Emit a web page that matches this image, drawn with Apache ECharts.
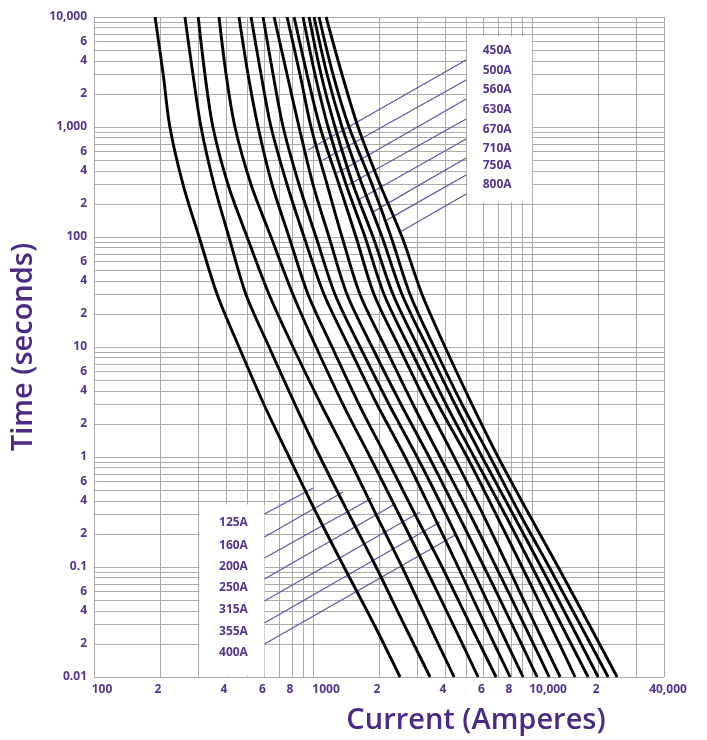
<!DOCTYPE html>
<html><head><meta charset="utf-8">
<script src="https://cdn.jsdelivr.net/npm/echarts@6/dist/echarts.min.js"></script>
<style>html,body{margin:0;padding:0;background:#fff}#c{width:707px;height:740px}</style>
</head><body><div id="c"></div>
<script>
// ---- data (current in A at each time in s) ----
const ratings = ['125A','160A','200A','250A','315A','355A','400A','450A','500A','560A','630A','670A','710A','750A','800A'];
const times = [10000,3000,1000,300,100,30,10,3,1,0.3,0.1,0.03,0.01];
const c125 = [190,207,222,255,302,365,459,597,777,1043,1385,1899,2496];
const c160 = [260,283,308,353,413,494,630,828,1076,1460,1940,2603,3421];
const c200 = [299,321,349,409,500,630,810,1088,1445,1940,2549,3386,4404];
const c250 = [372,401,440,521,643,810,1032,1371,1821,2470,3246,4358,5667];
const c315 = [459,505,561,650,777,949,1221,1622,2154,2923,3882,5212,6848];
const c355 = [521,579,643,761,910,1123,1460,1960,2631,3532,4593,6102,7935];
const c400 = [591,657,730,863,1032,1260,1639,2223,2986,4049,5266,6994,9096];
const c450 = [664,761,863,1000,1183,1430,1859,2522,3386,4593,6037,8104,10540];
const c500 = [761,872,979,1159,1356,1639,2132,2861,3800,5212,6848,9194,11960];
const c560 = [819,939,1076,1314,1571,1899,2470,3315,4404,5974,7770,10320,13430];
const c630 = [900,1021,1171,1415,1727,2110,2744,3722,5050,6848,9001,12080,15710];
const c670 = [959,1088,1260,1522,1879,2319,3016,4049,5435,7528,10000,13570,18020];
const c710 = [1011,1159,1356,1674,2066,2549,3315,4451,5912,8190,10990,15070,20020];
const c750 = [1065,1234,1460,1859,2271,2773,3569,4791,6430,8815,11960,16570,22230];
const c800 = [1147,1356,1605,2022,2549,3146,4006,5321,6994,9689,13140,18210,24440];
const curves = [c125,c160,c200,c250,c315,c355,c400,c450,c500,c560,c630,c670,c710,c750,c800];

// axis ticks
const xTickValues = [100,200,400,600,800,1000,2000,4000,6000,8000,10000,20000,40000];
const xTickLabels = ['100','2','4','6','8','1000','2','4','6','8','10,000','2','40,000'];
const yTickValues = [0.01,0.02,0.04,0.06,0.1,0.2,0.4,0.6,1,2,4,6,10,20,40,60,100,200,400,600,1000,2000,4000,6000,10000];
const yTickLabels = ['0.01','2','4','6','0.1','2','4','6','1','2','4','6','10','2','4','6','100','2','4','6','1,000','2','4','6','10,000'];
const xGridValues = [100,200,300,400,500,600,700,800,900,1000,2000,3000,4000,5000,6000,7000,8000,9000,10000,20000,30000,40000];
const yGridValues = [0.01,0.02,0.03,0.04,0.05,0.06,0.07,0.08,0.09,0.1,0.2,0.3,0.4,0.5,0.6,0.7,0.8,0.9,1,2,3,4,5,6,7,8,9,10,20,30,40,50,60,70,80,90,100,200,300,400,500,600,700,800,900,1000,2000,3000,4000,5000,6000,7000,8000,9000,10000];

// leader lines: top group (450A..800A) start at box edge current, bottom group (125A..400A)
const topLabels = ['450A','500A','560A','630A','670A','710A','750A','800A'];
const topStartCurrent = 5000;
const topStartTimes = [4064,2675,1797,1182,778,523,366,246];
const topEndCurrents = [949,1111,1287,1445,1605,1879,2177,2496];
const topEndTimes = [618,501,382,297,217,169,143,111];
const bottomLabels = ['125A','160A','200A','250A','315A','355A','400A'];
const bottomStartCurrent = 600;
const bottomStartTimes = [0.303,0.1875,0.1208,0.0778,0.0491,0.031,0.01995];
const bottomEndCurrents = [1000,1371,1859,2368,3081,3800,4545];
const bottomEndTimes = [0.523,0.481,0.424,0.374,0.316,0.2566,0.1995];
// label box extents (data units)
const topBox = [[5000,6700],[10000,204]];
const bottomBox = [[300,0.37],[600,0.01]];

// ---- chart ----
const PURPLE = '#55358f';
const TITLE = '#4a2a85';
const LEADER = '#6e52a3';
const GRID = '#ababab';
const FONT = '"Open Sans", "Noto Sans", sans-serif';

function lookup(vals, labels, v) {
  let best = 0, bd = Infinity;
  vals.forEach((t, i) => { const d = Math.abs(Math.log10(t) - Math.log10(v)); if (d < bd) { bd = d; best = i; } });
  return labels[best];
}
const xRichKey = { '100': 'a', '1000': 'b', '10,000': 'c', '40,000': 'd' };

const series = [];
series.push({
  type: 'line', data: [], silent: true, z: 1,
  markLine: {
    silent: true, z: 1, symbol: ['none', 'none'], label: { show: false },
    lineStyle: { color: GRID, width: 1, type: 'solid' }, animation: false,
    emphasis: { disabled: true },
    data: xGridValues.map(v => ({ xAxis: v })).concat(yGridValues.map(v => ({ yAxis: v })))
  }
});
curves.forEach((arr, i) => {
  series.push({
    name: ratings[i], type: 'line', z: 5, showSymbol: false, smooth: 0.3, silent: true,
    clip: true,
    lineStyle: { color: '#000', width: 2.9 },
    data: arr.map((c, j) => [c, times[j]])
  });
});
topLabels.forEach((l, i) => {
  series.push({ type: 'line', z: 4, showSymbol: false, silent: true,
    lineStyle: { color: LEADER, width: 1.3 },
    data: [[topStartCurrent, topStartTimes[i]], [topEndCurrents[i], topEndTimes[i]]] });
});
bottomLabels.forEach((l, i) => {
  series.push({ type: 'line', z: 4, showSymbol: false, silent: true,
    lineStyle: { color: LEADER, width: 1.3 },
    data: [[bottomStartCurrent, bottomStartTimes[i]], [bottomEndCurrents[i], bottomEndTimes[i]]] });
});

const chart = echarts.init(document.getElementById('c'), null, { renderer: 'canvas' });
chart.setOption({
  animation: false,
  backgroundColor: '#fff',
  grid: { left: 94, top: 17, width: 570, height: 660, containLabel: false },
  xAxis: {
    type: 'log', logBase: 10, min: 100, max: 40000,
    name: 'Current (Amperes)', nameLocation: 'middle', nameGap: 29,
    nameTextStyle: { fontFamily: FONT, fontWeight: 600, fontSize: 29, color: TITLE, padding: [0, 0, 0, 194] },
    axisLine: { show: false }, axisTick: { show: false }, splitLine: { show: false },
    axisLabel: {
      customValues: xTickValues, margin: 7,
      fontFamily: FONT, fontWeight: 'bold', fontSize: 12, color: PURPLE,
      formatter: function (v) { const s = lookup(xTickValues, xTickLabels, v); return '{' + (xRichKey[s] || 'e') + '|' + s + '}'; },
      rich: {
        a: { fontFamily: FONT, fontWeight: 'bold', fontSize: 12, color: PURPLE, padding: [0, 0, 0, 16] },
        b: { fontFamily: FONT, fontWeight: 'bold', fontSize: 12, color: PURPLE, padding: [0, 0, 0, 26] },
        c: { fontFamily: FONT, fontWeight: 'bold', fontSize: 12, color: PURPLE, padding: [0, 0, 0, 32] },
        d: { fontFamily: FONT, fontWeight: 'bold', fontSize: 12, color: PURPLE, padding: [0, 0, 0, 8] },
        e: { fontFamily: FONT, fontWeight: 'bold', fontSize: 12, color: PURPLE, padding: [0, 4, 0, 0] }
      }
    }
  },
  yAxis: {
    type: 'log', logBase: 10, min: 0.01, max: 10000,
    name: 'Time (seconds)', nameLocation: 'middle', nameGap: 48, nameRotate: 90,
    nameTextStyle: { fontFamily: FONT, fontWeight: 600, fontSize: 29, color: TITLE },
    axisLine: { show: false }, axisTick: { show: false }, splitLine: { show: false },
    axisLabel: {
      customValues: yTickValues, margin: 7,
      fontFamily: FONT, fontWeight: 'bold', fontSize: 12, color: PURPLE,
      formatter: function (v) { return lookup(yTickValues, yTickLabels, v); }
    }
  },
  series: series
});

// label boxes and texts, placed through the axes' conversion
function px(p) { return chart.convertToPixel({ gridIndex: 0 }, p); }
const g = [];
[topBox, bottomBox].forEach(b => {
  const p0 = px(b[0]), p1 = px(b[1]);
  g.push({ type: 'rect', z: 3, silent: true,
    shape: { x: Math.min(p0[0], p1[0]) + 1, y: Math.min(p0[1], p1[1]), width: Math.abs(p1[0] - p0[0]) - 1, height: Math.abs(p1[1] - p0[1]) - 1 },
    style: { fill: '#fff' } });
});
topLabels.forEach((l, i) => {
  const p = px([topStartCurrent, topStartTimes[i]]);
  g.push({ type: 'text', z: 6, silent: true, x: p[0] + 31, y: p[1] - 9,
    style: { text: l, fill: PURPLE, font: 'bold 12px ' + FONT, align: 'center', verticalAlign: 'middle', textAlign: 'center', textVerticalAlign: 'middle' } });
});
bottomLabels.forEach((l, i) => {
  const p = px([bottomStartCurrent, bottomStartTimes[i]]);
  g.push({ type: 'text', z: 6, silent: true, x: p[0] - 31, y: p[1] + 9,
    style: { text: l, fill: PURPLE, font: 'bold 12px ' + FONT, align: 'center', verticalAlign: 'middle', textAlign: 'center', textVerticalAlign: 'middle' } });
});
chart.setOption({ graphic: { elements: g } });
</script>
</body></html>
